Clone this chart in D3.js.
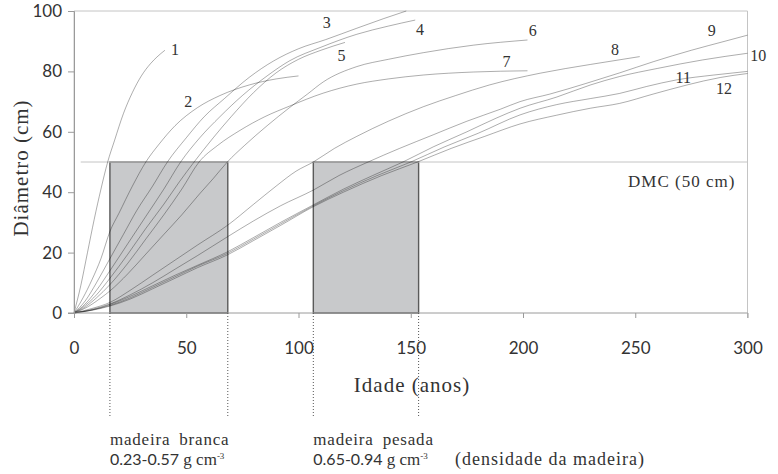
<!DOCTYPE html>
<html><head><meta charset="utf-8">
<script src="https://cdn.jsdelivr.net/npm/d3@7"></script>
<style>body{margin:0;background:#fff} svg{display:block}</style>
</head><body><svg id="c" width="778" height="474"></svg>
<script>
// ---- data (age in years, diameter in cm) ----
const xTicks = [0, 50, 100, 150, 200, 250, 300];
const yTicks = [0, 20, 40, 60, 80, 100];
const dmc = 50;
const woodBands = [
  {name: "madeira branca", range: "0.23-0.57", from: 16, to: 68.5},
  {name: "madeira pesada", range: "0.65-0.94", from: 106.6, to: 153.5}
];
const c1 = [[0,0],[3,9],[6,20],[9,31],[12,41],[15,50],[18,57],[22,66],[26,73],[30,78.5],[34,82.5],[37,84.8],[40.5,87]];
const c2 = [[0,0],[4,5],[8,11],[12,18],[16,27],[20,33],[26,42],[32,50],[38,56],[45,62],[55,68],[65,72],[78,75.5],[90,77.5],[100,78.5]];
const c3 = [[0,0],[5,4],[10,10],[16,18],[22,26],[28,34],[35,42],[41.6,50],[50,58],[58,65],[67,71],[78,78],[89,83.5],[100,87.5],[112,90.5],[126,94.3],[138,97.5],[148,100]];
const c4 = [[0,0],[5,3],[10,7.5],[16,14],[24,23],[32,32],[40,41],[47.5,50],[56,58],[65,65],[75,72],[86,78.5],[96,83.5],[110,88],[126,92.3],[140,95],[152,97]];
const c5 = [[0,0],[5,2.5],[10,6],[16,11.5],[24,19.5],[32,28],[40,36],[47,43.5],[53.5,50],[62,58],[70,65],[80,73],[90,79.5],[100,84],[110,87],[120.7,89.6]];
const c6 = [[0,0],[6,2],[12,5],[16,7.3],[24,13],[32,19.5],[40,26],[48,32.5],[56,39.5],[62,44.5],[68.3,50],[76,55.5],[86,62],[96,68],[104,72.5],[111,76.5],[126,81.6],[140,84],[155.6,86.2],[178,88.7],[202,90.4]];
const c7 = [[0,0],[5,2],[10,5],[16,9.4],[24,16.5],[32,24.5],[40,32.5],[48,41],[55.7,50],[64,55.5],[74,60.5],[85,65],[96,68.5],[111,72.8],[126,75.8],[140,77.5],[155.6,78.8],[178,79.8],[202,80.2]];
const c8 = [[0,0],[8,1.5],[16,3.5],[25,7.5],[35,12.5],[45,17.5],[55,22.5],[68.5,29.1],[80,36],[90,42],[99,47],[106.6,50],[116,54.5],[126,58.5],[140,63.5],[155.6,68.3],[170,72],[185,75.5],[207.6,79.4],[230,82.3],[252,84.9]];
const c9 = [[0,0],[8,1.2],[16,3],[25,6],[35,10],[45,14.5],[55,19],[68.5,25.3],[80,30.5],[92,35.5],[106.6,40.7],[118,45.5],[131,50],[145,54.5],[160,59],[175,63.5],[190,67.5],[198.7,70],[212,72.5],[228,76],[243,79.5],[258,83.2],[275,87],[290,90],[300,92]];
const c10 = [[0,0],[8,1],[16,2.8],[25,5.5],[35,9],[45,12.5],[55,15.8],[68.5,20.3],[80,25],[92,30],[106.6,35.8],[120,41],[133,45.5],[146.5,50],[160,55],[175,60],[188,64.5],[198.7,67.8],[215,71.5],[230,75.5],[243,78.3],[260,81],[280,83.8],[300,86]];
const c11 = [[0,0],[8,1],[16,2.5],[25,5],[35,8.5],[45,12],[55,15.5],[68.5,19.8],[80,24.5],[92,29.5],[106.6,35.5],[120,40.5],[135,45.5],[150,50],[165,55],[180,59.5],[198.7,65.6],[215,69],[230,71],[243,72.7],[255,75],[268.5,77.2],[285,78.8],[300,80]];
const c12 = [[0,0],[8,0.9],[16,2.3],[25,4.6],[35,8],[45,11.5],[55,15],[68.5,19.3],[80,24],[92,29],[106.6,35.2],[120,40],[137,45.5],[153,50],[168,54.5],[183,58.5],[198.7,62.6],[215,65.5],[230,67.8],[243,69.4],[258,72.5],[273,75.5],[288,78],[300,79.3]];
const curves = [c1,c2,c3,c4,c5,c6,c7,c8,c9,c10,c11,c12];
const curveNames = ["1","2","3","4","5","6","7","8","9","10","11","12"];
// label anchors in data units (age, diameter)
const labelAt = [[45,87.1],[50.9,70],[112.6,96.1],[154.1,93.9],[119.2,85.1],[204.3,93.7],[192.7,83.2],[241,87.1],[284.1,93.7],[304.8,85.1],[271.4,78],[289.5,74.4]];

// ---- drawing ----
const svg = d3.select("#c");
const SANS = "Lato, 'Open Sans', sans-serif";
const SERIF = "'Liberation Serif', 'DejaVu Serif', serif";
const TXT = "#333";
const x = d3.scaleLinear().domain([0,300]).range([74, 747.5]);
const y = d3.scaleLinear().domain([0,100]).range([313, 11]);

// bands
svg.selectAll("rect.band").data(woodBands).enter().append("rect")
  .attr("x", d => x(d.from)).attr("y", y(dmc))
  .attr("width", d => x(d.to) - x(d.from)).attr("height", y(0) - y(dmc))
  .attr("fill", "#c8c9cb").attr("stroke", "#5a5a5a").attr("stroke-width", 1.4);

// borders
const g = svg.append("g");
g.append("line").attr("x1", x(0)).attr("x2", x(300)).attr("y1", y(100)).attr("y2", y(100)).attr("stroke", "#c4c4c4");
g.append("line").attr("x1", x(300)).attr("x2", x(300)).attr("y1", y(100)).attr("y2", y(0)+5).attr("stroke", "#c4c4c4");
g.append("line").attr("x1", x(0)).attr("x2", x(0)).attr("y1", y(100)).attr("y2", y(0)).attr("stroke", "#c4c4c4");
g.append("line").attr("x1", x(3)).attr("x2", x(300)).attr("y1", y(dmc)).attr("y2", y(dmc)).attr("stroke", "#c4c4c4");

// curves
const line = d3.line().x(d => x(d[0])).y(d => y(d[1])).curve(d3.curveMonotoneX);
svg.append("g").selectAll("path").data(curves).enter().append("path")
  .attr("d", line).attr("fill", "none").attr("stroke", "#000")
  .attr("stroke-opacity", 0.32).attr("stroke-width", 1);

// axes
const ya = svg.append("g").attr("transform", `translate(${x(0)},0)`)
  .call(d3.axisLeft(y).tickValues(yTicks).tickSize(6).tickPadding(6));
const xa = svg.append("g").attr("transform", `translate(0,${y(0)})`)
  .call(d3.axisBottom(x).tickValues(xTicks).tickSize(5).tickPadding(24));
[ya, xa].forEach(a => {
  a.select(".domain").attr("stroke", "#9a9a9a");
  a.selectAll(".tick line").attr("stroke", "#9a9a9a");
  a.selectAll(".tick text").attr("fill", TXT).style("font-family", SANS).style("font-size", "17px");
});
xa.select(".domain").attr("d", `M${x(0)-6},0H${x(300)}`);

// dotted drop lines
const drops = woodBands.flatMap(d => [d.from, d.to]);
svg.append("g").selectAll("line").data(drops).enter().append("line")
  .attr("x1", d => x(d)).attr("x2", d => x(d)).attr("y1", y(0)).attr("y2", 416)
  .attr("stroke", "#555").attr("stroke-width", 1).attr("stroke-dasharray", "1,2");

// curve labels
svg.append("g").selectAll("text").data(curveNames).enter().append("text")
  .attr("x", (d,i) => x(labelAt[i][0])).attr("y", (d,i) => y(labelAt[i][1]))
  .attr("text-anchor", "middle").attr("dominant-baseline", "central")
  .style("font-family", SERIF).style("font-size", "16px").attr("fill", TXT).text(d => d);

// DMC label
svg.append("text").attr("x", x(246.8)).attr("y", 187)
  .style("font-family", SERIF).style("font-size", "17px").style("letter-spacing", "1px")
  .attr("fill", TXT).text("DMC (50 cm)");

// axis titles
svg.append("text").attr("transform", "translate(28,168) rotate(-90)").attr("text-anchor", "middle")
  .style("font-family", SERIF).style("font-size", "21px").style("letter-spacing", "1px")
  .attr("fill", TXT).text("Diâmetro (cm)");
svg.append("text").attr("x", 412).attr("y", 392).attr("text-anchor", "middle")
  .style("font-family", SERIF).style("font-size", "21px").style("letter-spacing", "1px")
  .attr("fill", TXT).text("Idade (anos)");

// band labels
woodBands.forEach(b => {
  svg.append("text").attr("x", x(b.from)).attr("y", 445)
    .style("font-family", SERIF).style("font-size", "17px").style("letter-spacing", "0.8px").style("word-spacing", "4px")
    .attr("fill", TXT).text(b.name);
  const t = svg.append("text").attr("x", x(b.from)).attr("y", 465).attr("fill", TXT)
    .style("font-family", SERIF).style("font-size", "17px");
  t.append("tspan").style("font-family", SANS).style("font-size", "16px").text(b.range);
  t.append("tspan").text(" g cm");
  t.append("tspan").style("font-size", "9px").attr("dy", -6).text("-3");
});
svg.append("text").attr("x", 455).attr("y", 465).attr("fill", TXT)
  .style("font-family", SERIF).style("font-size", "18px").style("letter-spacing", "1px")
  .text("(densidade da madeira)");
</script></body></html>
